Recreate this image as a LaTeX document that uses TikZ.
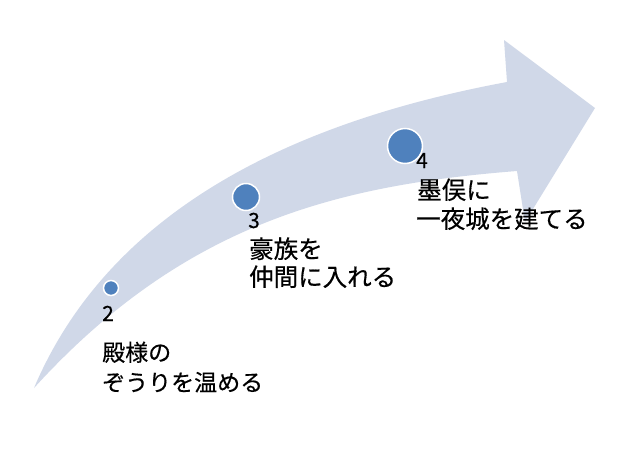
\documentclass[tikz,border=0pt]{standalone}
\usepackage{fontspec}
\newfontfamily\jp{Noto Sans CJK JP}[FakeBold=0.4]
\definecolor{arrowfill}{HTML}{D0D8E8}
\definecolor{dotfill}{HTML}{4F81BD}
\begin{document}
\begin{tikzpicture}[x=1pt,y=-1pt,
  dot/.style={circle,fill=dotfill,draw=white,line width=1.5pt,inner sep=0pt},
  numtext/.style={anchor=base west,inner sep=0pt,font=\jp\fontsize{21}{25}\selectfont},
  labeltext/.style={anchor=base west,inner sep=0pt,font=\jp\fontsize{24.5}{29}\selectfont},
  smalltext/.style={labeltext,font=\jp\fontsize{23}{29}\selectfont}]
\useasboundingbox[fill=white] (0,0) rectangle (643,461);
% arrow
\fill[arrowfill] (34,388) .. controls (101,230) and (259,128) .. (507,82)
  -- (504,40) -- (595,108) -- (525,222) -- (517,171)
  .. controls (340,185) and (185,222) .. (34,388) -- cycle;
% dots
\node[dot,minimum size=15pt] (d2) at (111,288) {};
\node[dot,minimum size=27pt] (d3) at (246,197) {};
\node[dot,minimum size=35pt] (d4) at (405,146) {};
% labels
\node[numtext] (n2) at (102,321) {2};
\node[smalltext] (a2) at (102,361) {殿様の};
\node[smalltext] (b2) at (102,391) {ぞうりを温める};
\node[numtext] (n3) at (248,228) {3};
\node[labeltext] (a3) at (249,258) {豪族を};
\node[labeltext] (b3) at (249,286) {仲間に入れる};
\node[numtext] (n4) at (416,168) {4};
\node[labeltext] (a4) at (417,199) {墨俣に};
\node[labeltext] (b4) at (416,228) {一夜城を建てる};
\end{tikzpicture}
\end{document}
